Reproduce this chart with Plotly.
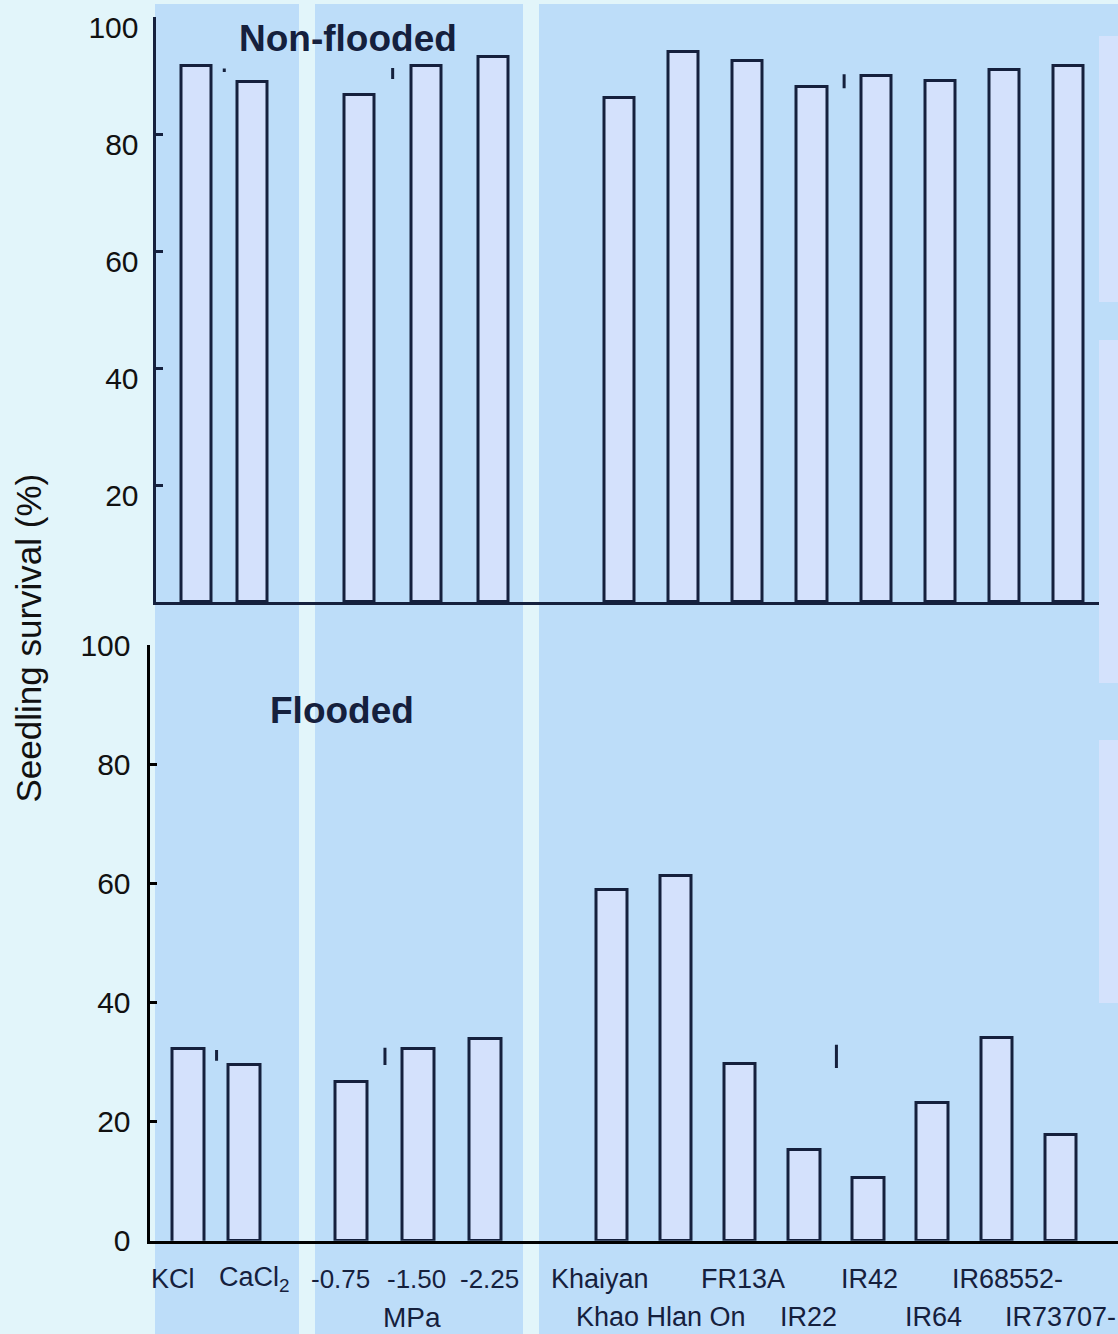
import plotly.graph_objects as go

# ---------------- data ----------------
categories = ["KCl", "CaCl<sub>2</sub>", "-0.75", "-1.50", "-2.25", "Khaiyan", "Khao Hlan On",
              "FR13A", "IR22", "IR42", "IR64", "IR68552-", "IR73707-"]
category_group = [0, 0, 1, 1, 1, 2, 2, 2, 2, 2, 2, 2, 2]
label_row = [1, 1, 1, 1, 1, 1, 2, 1, 2, 1, 2, 1, 2]
non_flooded = [91.6, 88.9, 86.7, 91.6, 93.2, 86.2, 94.0, 92.4, 88.1, 90.0, 89.0, 90.9, 91.6]
flooded = [32.2, 29.5, 26.7, 32.2, 33.8, 58.8, 61.3, 29.7, 15.3, 10.6, 23.1, 34.0, 17.8]
flooded_base = [-1.0, 0, 0, 0, 0, 0, 0, 0, 0, 0, 0, 0, 0]
lsd_pairs = [(0, 1), (2, 3), (8, 9)]
lsd_non_flooded = [0.6, 1.9, 2.4]
lsd_non_flooded_mid = [90.9, 90.35, 89.0]
lsd_flooded = [1.8, 2.9, 3.9]
lsd_flooded_mid = [31.1, 30.95, 30.95]
y_ticks = [0, 20, 40, 60, 80, 100]
unit_label = "MPa"
unit_under = 3
panel_titles = ["Non-flooded", "Flooded"]
y_title = "Seedling survival (%)"

# ---------------- layout constants ----------------
W, H = 1118, 1334
GROUP_START = [0.0, 2.54, 6.6]
GROUP_STEP = [0.875, 1.045, 1.0]
U = 64.15                    # px per slot
TOP_ORIGIN, BOT_ORIGIN = 196.2, 188.5
TOP_AX_X, BOT_AX_X = 155.5, 149.5
TOP_Y0, TOP_Y100 = 602, 17
BOT_Y0, BOT_Y100 = 1240.7, 645
LABEL_XSHIFT = [-16, 10, -11, -2, 4, -12, -15, 3, 4, 1, 1, 11, 0]
LABEL_ROW_Y = {1: 1278.5, 2: 1317}
NAVY = "#15203D"
BAR_FILL = "#D4E1FC"
PANEL = "#BDDDF9"
PAGE = "#E2F5FA"
LIGHT = "#D4E2FC"
FONT = "Liberation Sans, Arial, sans-serif"


def px2x(px):
    return px / W


def px2y(py):
    return 1 - py / H


pos = []
counters = [0, 0, 0]
for g in category_group:
    pos.append(GROUP_START[g] + GROUP_STEP[g] * counters[g])
    counters[g] += 1

fig = go.Figure()

fig.add_trace(go.Bar(x=pos, y=non_flooded, width=0.47, marker=dict(color=BAR_FILL, line=dict(color=NAVY, width=3)),
                     xaxis="x", yaxis="y", showlegend=False, hoverinfo="skip"))
fig.add_trace(go.Bar(x=pos, y=[v - b for v, b in zip(flooded, flooded_base)], base=flooded_base, width=0.49,
                     marker=dict(color=BAR_FILL, line=dict(color=NAVY, width=3)), cliponaxis=False,
                     xaxis="x2", yaxis="y2", showlegend=False, hoverinfo="skip"))


def lsd_xy(lengths, mids):
    xs, ys = [], []
    for (a, b), L, m in zip(lsd_pairs, lengths, mids):
        xm = (pos[a] + pos[b]) / 2
        xs += [xm, xm, None]
        ys += [m - L / 2, m + L / 2, None]
    return xs, ys


xs, ys = lsd_xy(lsd_non_flooded, lsd_non_flooded_mid)
fig.add_trace(go.Scatter(x=xs, y=ys, mode="lines", line=dict(color=NAVY, width=3), xaxis="x", yaxis="y",
                         showlegend=False, hoverinfo="skip"))
xs, ys = lsd_xy(lsd_flooded, lsd_flooded_mid)
fig.add_trace(go.Scatter(x=xs, y=ys, mode="lines", line=dict(color=NAVY, width=3), xaxis="x2", yaxis="y2",
                         showlegend=False, hoverinfo="skip"))

top_range = [(TOP_AX_X - TOP_ORIGIN) / U, (W - TOP_ORIGIN) / U]
bot_range = [(BOT_AX_X - BOT_ORIGIN) / U, (W - BOT_ORIGIN) / U]

common_x = dict(showgrid=False, zeroline=False, showticklabels=False, ticks="", automargin=False)
fig.update_layout(
    width=W, height=H, autosize=False, margin=dict(l=0, r=0, t=0, b=0, pad=0, autoexpand=False),
    paper_bgcolor=PAGE, plot_bgcolor="rgba(0,0,0,0)",
    font=dict(family=FONT, color="#111111"),
    bargap=0,
    xaxis=dict(domain=[px2x(TOP_AX_X), 1], range=top_range, anchor="y",
               showline=True, linecolor=NAVY, linewidth=3, **common_x),
    yaxis=dict(domain=[px2y(TOP_Y0), px2y(TOP_Y100)], range=[0, 100], anchor="x", automargin=False,
               showline=True, linecolor=NAVY, linewidth=3, showgrid=False, zeroline=False,
               ticks="inside", ticklen=7, tickwidth=2.5, tickcolor=NAVY,
               tickvals=y_ticks[1:], tickfont=dict(size=30, color="#111111"),
               ticklabelshift=10, ticklabelstandoff=8, ticklabeloverflow="allow"),
    xaxis2=dict(domain=[px2x(BOT_AX_X), 1], range=bot_range, anchor="y2",
                showline=True, linecolor="#000000", linewidth=3, **common_x),
    yaxis2=dict(domain=[px2y(BOT_Y0), px2y(BOT_Y100)], range=[0, 100], anchor="x2", automargin=False,
                showline=True, linecolor="#000000", linewidth=3, showgrid=False, zeroline=False,
                ticks="inside", ticklen=7, tickwidth=2.5, tickcolor="#000000",
                tickvals=y_ticks, tickfont=dict(size=30, color="#111111"),
                ticklabelstandoff=10, ticklabeloverflow="allow"),
)

# background panels
shapes = []
for x0, x1 in [(155, 299), (315, 523), (539, W)]:
    shapes.append(dict(type="rect", xref="paper", yref="paper", x0=px2x(x0), x1=px2x(x1),
                       y0=0, y1=px2y(4), fillcolor=PANEL, line=dict(width=0), layer="below"))
for y0, y1 in [(36, 302), (340, 683), (740, 1003)]:
    shapes.append(dict(type="rect", xref="paper", yref="paper", x0=px2x(1099), x1=1,
                       y0=px2y(y1), y1=px2y(y0), fillcolor=LIGHT, line=dict(width=0), layer="above"))
fig.update_layout(shapes=shapes)

ann = []
for i, c in enumerate(categories):
    size = 26 if category_group[i] == 1 else 27
    ann.append(dict(x=pos[i], y=px2y(LABEL_ROW_Y[label_row[i]]), xref="x2", yref="paper", text=c,
                    showarrow=False, xanchor="center", yanchor="middle", xshift=LABEL_XSHIFT[i],
                    font=dict(size=size, color=NAVY, family=FONT)))
ann.append(dict(x=pos[unit_under], y=px2y(1317), xref="x2", yref="paper", text=unit_label, showarrow=False,
                xanchor="center", yanchor="middle", xshift=-6, font=dict(size=28, color=NAVY, family=FONT)))
ann.append(dict(x=px2x(347.5), y=px2y(38), xref="paper", yref="paper", text="<b>%s</b>" % panel_titles[0],
                showarrow=False, xanchor="center", yanchor="middle", font=dict(size=37, color=NAVY, family=FONT)))
ann.append(dict(x=px2x(342), y=px2y(710), xref="paper", yref="paper", text="<b>%s</b>" % panel_titles[1],
                showarrow=False, xanchor="center", yanchor="middle", font=dict(size=37, color=NAVY, family=FONT)))
ann.append(dict(x=px2x(28), y=px2y(638.5), xref="paper", yref="paper", text=y_title, textangle=-90,
                showarrow=False, xanchor="center", yanchor="middle", font=dict(size=35, color="#111111", family=FONT)))
fig.update_layout(annotations=ann)

fig.write_html("out.html")
